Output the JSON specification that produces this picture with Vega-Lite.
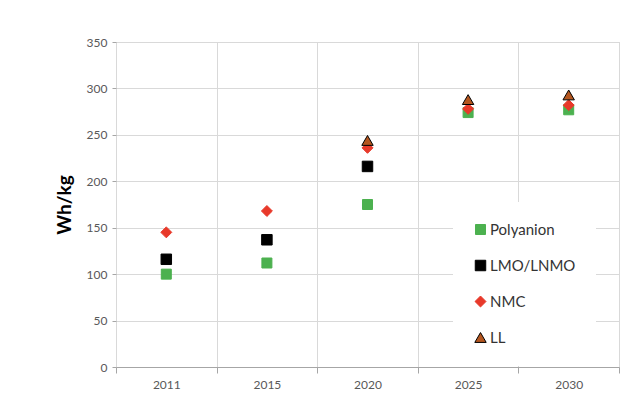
{
  "$schema": "https://vega.github.io/schema/vega-lite/v6.json",
  "width": 503,
  "height": 325,
  "autosize": {"type": "none"},
  "padding": {"left": 116, "top": 42, "right": 25, "bottom": 41},
  "background": "white",
  "config": {
    "font": "Lato",
    "view": {"stroke": "#d0d0d0"},
    "axis": {"labelFont": "Lato", "titleFont": "Lato"}
  },
  "data": {
    "values": [
      {"year": "2011", "series": "Polyanion", "value": 100},
      {"year": "2011", "series": "LMO/LNMO", "value": 116},
      {"year": "2011", "series": "NMC", "value": 145},
      {"year": "2015", "series": "Polyanion", "value": 112},
      {"year": "2015", "series": "LMO/LNMO", "value": 137},
      {"year": "2015", "series": "NMC", "value": 168},
      {"year": "2020", "series": "Polyanion", "value": 175},
      {"year": "2020", "series": "LMO/LNMO", "value": 216},
      {"year": "2020", "series": "NMC", "value": 236},
      {"year": "2020", "series": "LL", "value": 244},
      {"year": "2025", "series": "Polyanion", "value": 274},
      {"year": "2025", "series": "NMC", "value": 278},
      {"year": "2025", "series": "LL", "value": 288},
      {"year": "2030", "series": "Polyanion", "value": 277},
      {"year": "2030", "series": "NMC", "value": 282},
      {"year": "2030", "series": "LL", "value": 293}
    ]
  },
  "mark": {"type": "point", "filled": true, "opacity": 1, "strokeWidth": 1},
  "encoding": {
    "x": {
      "field": "year", "type": "ordinal",
      "scale": {"paddingInner": 0, "paddingOuter": 0},
      "axis": {
        "title": null, "labelAngle": 0, "tickBand": "extent",
        "grid": true, "gridColor": "#d9d9d9", "domainColor": "#a6a6a6",
        "tickColor": "#a6a6a6", "tickSize": 6, "labelFontSize": 12,
        "labelColor": "#595959", "labelPadding": 6
      }
    },
    "y": {
      "field": "value", "type": "quantitative",
      "scale": {"domain": [0, 350], "nice": false},
      "axis": {
        "title": "Wh/kg", "titleFontSize": 19, "titleFontWeight": "bold",
        "titleColor": "#000000", "titlePadding": 12,
        "values": [0, 50, 100, 150, 200, 250, 300, 350],
        "gridColor": "#d9d9d9", "domain": false, "tickColor": "#a6a6a6",
        "tickSize": 4, "labelFontSize": 12, "labelColor": "#595959", "labelPadding": 5
      }
    },
    "color": {
      "field": "series", "type": "nominal",
      "scale": {"domain": ["Polyanion", "LMO/LNMO", "NMC", "LL"], "range": ["#4cb14f", "#000000", "#e8392a", "#b4561f"]},
      "legend": {
        "title": null, "orient": "none", "legendX": 337, "legendY": 160,
        "padding": 20, "fillColor": "white", "labelFontSize": 15,
        "labelColor": "#333333", "rowPadding": 20, "labelOffset": 2,
        "symbolStrokeWidth": 1
      }
    },
    "shape": {
      "field": "series", "type": "nominal",
      "scale": {"domain": ["Polyanion", "LMO/LNMO", "NMC", "LL"], "range": ["square", "square", "diamond", "triangle-up"]}
    },
    "size": {
      "field": "series", "type": "nominal",
      "scale": {"domain": ["Polyanion", "LMO/LNMO", "NMC", "LL"], "range": [100, 130, 130, 260]}
    },
    "stroke": {
      "field": "series", "type": "nominal",
      "scale": {"domain": ["Polyanion", "LMO/LNMO", "NMC", "LL"], "range": ["#4cb14f", "#000000", "#e8392a", "#000000"]}
    }
  }
}
